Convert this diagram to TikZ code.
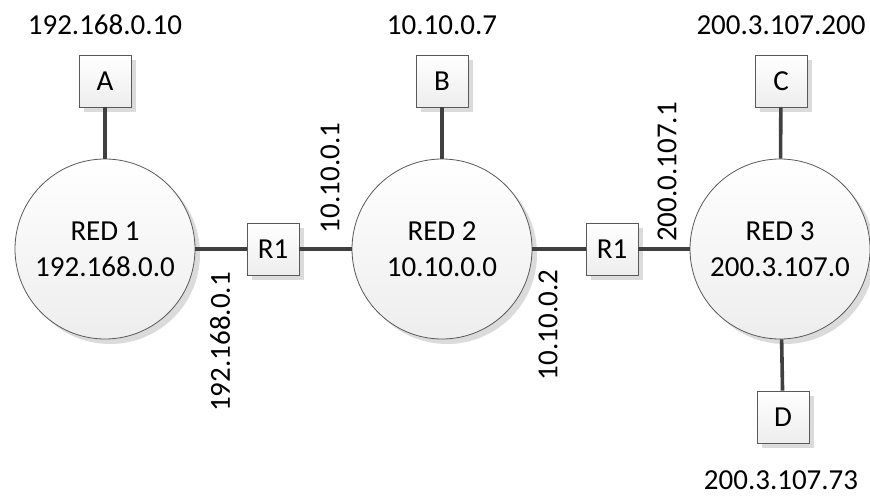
\documentclass[tikz,border=0pt]{standalone}
\usepackage{fontspec}
\setmainfont{Carlito}
\usetikzlibrary{positioning,shadows}

\begin{document}
\begin{tikzpicture}[
x=0.5pt, y=-0.5pt,
font=\fontsize{14.5}{18}\selectfont,
sombra/.style={drop shadow={shadow xshift=2.5pt, shadow yshift=-2.5pt, fill=black!14, opacity=1}},
rede/.style={circle, draw=black!65, line width=0.4pt, minimum size=90pt, inner sep=0pt, align=center, top color=white, bottom color=black!7, sombra},
equipo/.style={draw=black!65, line width=0.4pt, minimum size=26pt, inner sep=0pt, top color=white, bottom color=black!7, sombra},
enlace/.style={line width=1.8pt, draw=black!75},
ip/.style={inner sep=1pt}
]
\useasboundingbox (0,0) rectangle (870,497);

% redes
\node[rede] (red1) at (105,249) {RED 1\\192.168.0.0};
\node[rede] (red2) at (442,249) {RED 2\\10.10.0.0};
\node[rede] (red3) at (780,249) {RED 3\\200.3.107.0};

% hosts y routers
\node[equipo] (a) at (105,81) {A};
\node[equipo] (b) at (442,81) {B};
\node[equipo] (c) at (781,81) {C};
\node[equipo] (d) at (783,417) {D};
\node[equipo] (r1a) at (273,249) {R1};
\node[equipo] (r1b) at (612,249) {R1};

% direcciones
\node[ip] (ipa) at (105,25) {192.168.0.10};
\node[ip] (ipb) at (442,25) {10.10.0.7};
\node[ip] (ipc) at (781,25) {200.3.107.200};
\node[ip] (ipd) at (781,480) {200.3.107.73};
\node[ip, rotate=90] (ipr1) at (220,342) {192.168.0.1};
\node[ip, rotate=90] (ipr2) at (330,178) {10.10.0.1};
\node[ip, rotate=90] (ipr3) at (548,325) {10.10.0.2};
\node[ip, rotate=90] (ipr4) at (667,172) {200.0.107.1};

% enlaces
\draw[enlace] (a) -- (red1);
\draw[enlace] (b) -- (red2);
\draw[enlace] (c) -- (red3);
\draw[enlace] (red3) -- (d);
\draw[enlace] (red1) -- (r1a);
\draw[enlace] (r1a) -- (red2);
\draw[enlace] (red2) -- (r1b);
\draw[enlace] (r1b) -- (red3);
\end{tikzpicture}
\end{document}
